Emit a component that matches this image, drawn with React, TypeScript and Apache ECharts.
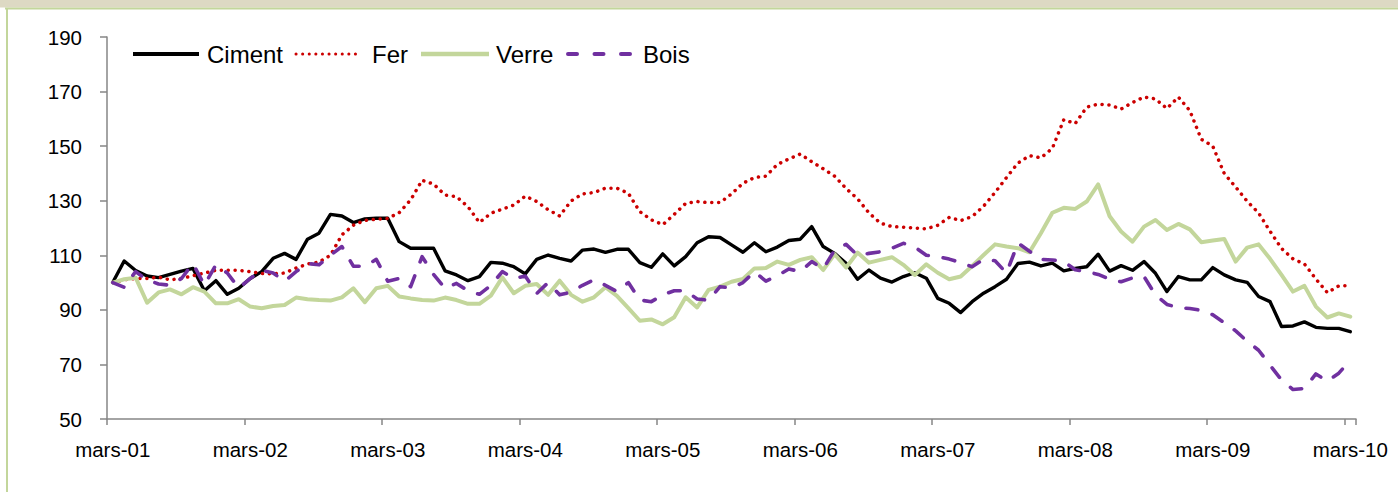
import React, { useEffect, useRef } from "react";
import * as echarts from "echarts";

// ---- Data ----
const MONTHS = ["janv", "févr", "mars", "avr", "mai", "juin", "juil", "août", "sept", "oct", "nov", "déc"];
const FIRST_YEAR = 2001;
const FIRST_MONTH = 2; // mars
const N_MONTHS = 109;
const categories: string[] = Array.from({ length: N_MONTHS }, (_, i) => {
  const k = FIRST_MONTH + i;
  const yy = (FIRST_YEAR + Math.floor(k / 12)) % 100;
  return `${MONTHS[k % 12]}-${String(yy).padStart(2, "0")}`;
});

const ciment = [
  100, 107.9, 104.4, 102.4, 101.8, 103, 104.2, 105.2, 97, 100.7,
  95.7, 97.9, 101.5, 104, 108.9, 110.7, 108.5, 115.9, 118.1, 125,
  124.4, 122, 123.3, 123.6, 123.6, 115, 112.6, 112.6, 112.6, 104.3,
  102.8, 100.7, 102.2, 107.4, 107.1, 105.8, 103.2, 108.5, 110.1, 108.9,
  107.9, 111.9, 112.3, 111.1, 112.2, 112.2, 107.3, 105.6, 110.5, 106.1,
  109.5, 114.6, 116.8, 116.5, 113.8, 111.1, 114.6, 111.3, 113, 115.4,
  115.9, 120.5, 113.2, 110.7, 107.1, 101.2, 104.6, 101.6, 100.2, 102.2,
  103.6, 101.6, 94.2, 92.4, 89, 93, 96.1, 98.5, 101.2, 107,
  107.5, 106.1, 107.1, 104.3, 105.2, 105.8, 110.4, 104.2, 106.2, 104.5,
  107.7, 103.4, 96.7, 102.2, 101, 101, 105.5, 102.8, 101, 100.1,
  94.9, 93, 83.9, 84.1, 85.6, 83.6, 83.2, 83.2, 82,
];

const fer = [
  100, 101, 101.5, 101.5, 102, 101, 101.5, 102.5, 103.5, 104.5,
  104.5, 104.5, 104, 103.3, 103.2, 103.5, 105.3, 106.8, 107.5, 110,
  117.5, 121, 122.8, 123.2, 123.5, 125.6, 130.3, 137.5, 136.1, 132.1,
  131.5, 127.8, 122, 125.4, 126.9, 128.4, 131.7, 129.7, 126.7, 124.4,
  129.9, 132.5, 133, 134.6, 134.6, 132.7, 126, 123, 121.2, 125,
  129, 129.7, 129.3, 129.3, 132.5, 136.4, 138.5, 139, 143.3, 145.3,
  147.1, 144.3, 141.7, 139, 134.5, 130.7, 125.5, 121.8, 120.5, 120.3,
  120, 119.7, 121, 123.9, 122.7, 124.2, 128, 133, 138.5, 143.8,
  146.5, 145.7, 149.2, 159.7, 158.3, 164.3, 165.4, 165.1, 163.6, 166,
  168, 167.3, 163.8, 168, 163, 152.5, 150, 140, 135, 129.8,
  125.5, 118.8, 112.5, 108.7, 106.8, 101.3, 96.3, 98.8, 98.8,
];

const verre = [
  100, 101.2, 101.8, 92.6, 96.4, 97.5, 95.7, 98.3, 96.7, 92.4,
  92.4, 93.9, 91.2, 90.6, 91.4, 91.8, 94.5, 93.9, 93.6, 93.4,
  94.6, 97.9, 92.8, 97.9, 98.8, 94.9, 94.2, 93.6, 93.4, 94.5,
  93.6, 92.2, 92.2, 95.2, 101.9, 96.1, 98.8, 99.5, 95.5, 100.7,
  95.5, 93, 94.6, 98.3, 95.1, 90.6, 86, 86.5, 84.7, 87.3,
  94.6, 90.9, 97.3, 98.5, 100.3, 101.3, 105.2, 105.3, 107.7, 106.5,
  108.3, 109.3, 104.6, 110.4, 105.5, 111, 107.3, 108.3, 109.3, 106.5,
  102.8, 106.7, 103.6, 101.2, 102.2, 106.1, 110.1, 114, 113.2, 112.6,
  111.1, 118.1, 125.6, 127.4, 127, 129.7, 136, 124.3, 118.7, 115,
  120.5, 122.9, 119.3, 121.5, 119.5, 114.8, 115.4, 116, 107.7, 112.8,
  114, 108.7, 102.8, 96.7, 98.8, 91.2, 87.2, 88.7, 87.5,
];

const bois = [
  100, 98.3, 104, 101, 99.5, 99, 101.5, 107, 99, 106.5,
  103.5, 98, 101.5, 104.5, 103.5, 100.5, 104, 107, 106.5, 110,
  113.2, 106, 106, 108.5, 100.5, 101.5, 98.5, 109.5, 103, 97.9,
  99.7, 97, 95.7, 99, 104, 101.5, 102.4, 96, 100, 95.5,
  96.5, 99, 101, 99, 96.7, 100, 93.6, 93, 95.5, 97,
  97, 94, 93.5, 98.5, 98, 100, 104, 100.5, 102.5, 105,
  104, 107.7, 105, 111.9, 114, 110, 110.7, 111.3, 112.6, 114.4,
  113, 110, 109.5, 108.6, 107.3, 105.8, 108.5, 108, 103.5, 114.5,
  111.5, 108.5, 108.3, 107.7, 104.7, 104, 103, 101.2, 100.3, 101.7,
  102.2, 95.5, 92, 90.8, 90.5, 89.8, 88.2, 85.3, 82.3, 78.5,
  75.2, 69.7, 64.3, 60.8, 61.2, 66.5, 63.9, 66.8, 71.5,
];

const seriesNames = ["Ciment", "Fer", "Verre", "Bois"];
const Y_MIN = 50;
const Y_MAX = 190;
const Y_STEP = 20;

// ---- Styles ----
const FONT = '"Liberation Sans", Arial, sans-serif';
const AXIS_COLOR = "#868686";
const styles: Record<string, any> = {
  Ciment: { color: "#000000", width: 3.4, type: "solid", cap: "round" },
  Fer: { color: "#cc0000", width: 3.5, type: [0.1, 6.8], cap: "round" },
  Verre: { color: "#c3d69b", width: 4, type: "solid", cap: "round" },
  Bois: { color: "#7030a0", width: 3.6, type: [12, 15], cap: "round" },
};
const legendLayout = [
  { name: "Ciment", x1: 133, x2: 199, tx: 207, dash: null, lw: 4 },
  { name: "Fer", x1: 296, x2: 359, tx: 372, dash: [0.1, 6.5], lw: 3 },
  { name: "Verre", x1: 421, x2: 489, tx: 496, dash: null, lw: 4.5 },
  { name: "Bois", x1: 568, x2: 634, tx: 643, dash: [9, 17.5], lw: 4 },
];
const LEGEND_Y = 54;

export default function App() {
  const ref = useRef<HTMLDivElement>(null);
  useEffect(() => {
    if (!ref.current) return;
    const chart = echarts.init(ref.current, undefined, { renderer: "svg" });
    const dataBy: Record<string, number[]> = { Ciment: ciment, Fer: fer, Verre: verre, Bois: bois };

    const legendGraphics: any[] = [];
    legendLayout.forEach((l) => {
      const s = styles[l.name];
      legendGraphics.push({
        type: "line",
        shape: { x1: l.x1, y1: LEGEND_Y, x2: l.x2, y2: LEGEND_Y },
        style: {
          stroke: s.color,
          lineWidth: l.lw,
          lineDash: l.dash || undefined,
          lineCap: l.dash ? "round" : "butt",
        },
        z: 10,
      });
      legendGraphics.push({
        type: "text",
        x: l.tx,
        y: LEGEND_Y,
        style: {
          text: l.name,
          font: `24px ${FONT}`,
          fill: "#000",
          verticalAlign: "middle",
          align: "left",
        },
        z: 10,
      });
    });

    chart.setOption({
      animation: false,
      backgroundColor: "#ffffff",
      grid: { left: 107, right: 42, top: 37, bottom: 73, containLabel: false },
      xAxis: {
        type: "category",
        data: categories,
        boundaryGap: true,
        axisLine: { lineStyle: { color: AXIS_COLOR, width: 1.5 } },
        axisTick: { show: true, interval: 11, length: 6, lineStyle: { color: AXIS_COLOR, width: 1.5 } },
        axisLabel: {
          interval: 11,
          color: "#000",
          fontFamily: FONT,
          fontSize: 20.5,
          margin: 20,
        },
        splitLine: { show: false },
      },
      yAxis: {
        type: "value",
        min: Y_MIN,
        max: Y_MAX,
        interval: Y_STEP,
        axisLine: { show: true, lineStyle: { color: AXIS_COLOR, width: 1.5 } },
        axisTick: { show: true, length: 7, lineStyle: { color: AXIS_COLOR, width: 1.5 } },
        axisLabel: { color: "#000", fontFamily: FONT, fontSize: 20.5, margin: 25 },
        splitLine: { show: false },
      },
      graphic: [
        { type: "rect", shape: { x: 0, y: 0, width: 1398, height: 7.5 }, style: { fill: "#ddd9c3" }, z: 5 },
        { type: "line", shape: { x1: 5, y1: 8.5, x2: 1398, y2: 8.5 }, style: { stroke: "#c3d69b", lineWidth: 2 }, z: 5 },
        { type: "line", shape: { x1: 7, y1: 8, x2: 7, y2: 492 }, style: { stroke: "#c3d69b", lineWidth: 2 }, z: 5 },
        ...legendGraphics,
      ],
      series: seriesNames.map((name) => ({
        name,
        type: "line",
        data: dataBy[name],
        showSymbol: false,
        symbol: "none",
        lineStyle: { ...styles[name], join: "round" },
        itemStyle: { color: styles[name].color },
      })),
    });
    return () => chart.dispose();
  }, []);

  return (
    <div
      ref={ref}
      style={{ position: "absolute", left: 0, top: 0, width: 1398, height: 492, background: "#fff" }}
    />
  );
}
